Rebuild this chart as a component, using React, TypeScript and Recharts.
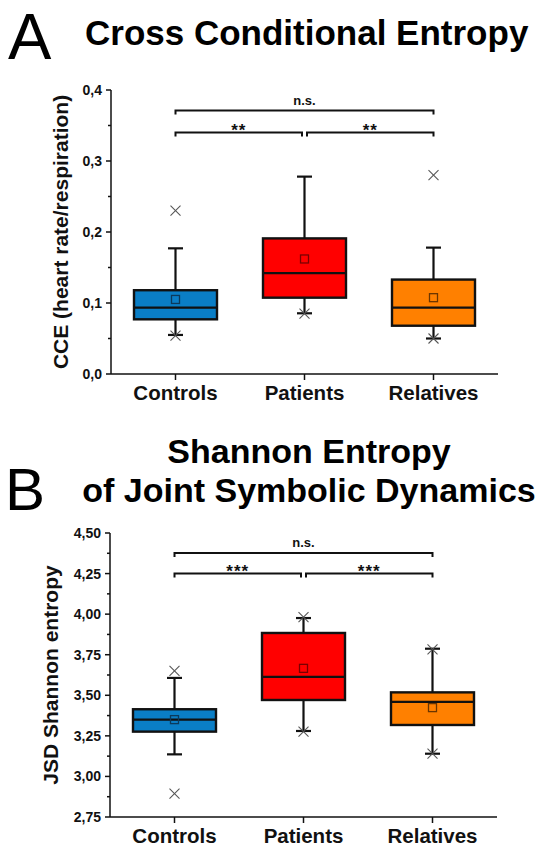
import React from 'react';
import { ComposedChart, Bar, Scatter, XAxis, YAxis, ReferenceLine } from 'recharts';

const FONT = '"Liberation Sans", Arial, Helvetica, sans-serif';

const groups = ['Controls', 'Patients', 'Relatives'];
const groupColors = ['#0a7ec6', '#ff0000', '#ff8000'];
const meanStroke = ['#0b3a5c', '#7a0000', '#6b3500'];

// Panel A: Cross Conditional Entropy
const cceWhiskerLow = [0.055, 0.0855, 0.05];
const cceQ1 = [0.077, 0.1075, 0.068];
const cceMedian = [0.0935, 0.142, 0.0935];
const cceQ3 = [0.118, 0.191, 0.133];
const cceWhiskerHigh = [0.177, 0.278, 0.178];
const cceMean = [0.105, 0.162, 0.1075];
const cceCrossHigh = [0.23, null, 0.28];
const cceCrossLow = [0.054, 0.085, 0.05];
const cceTicks = [0, 0.05, 0.1, 0.15, 0.2, 0.25, 0.3, 0.35, 0.4];
const cceMajorTicks = [0, 0.1, 0.2, 0.3, 0.4];
const cceBrackets = [
  { from: 'Controls', to: 'Relatives', y: 0.371, label: 'n.s.' },
  { from: 'Controls', to: 'Patients', y: 0.34, label: '**' },
  { from: 'Patients', to: 'Relatives', y: 0.34, label: '**' },
];

// Panel B: JSD Shannon entropy
const jsdWhiskerLow = [3.136, 3.28, 3.14];
const jsdQ1 = [3.276, 3.471, 3.317];
const jsdMedian = [3.35, 3.613, 3.459];
const jsdQ3 = [3.414, 3.884, 3.518];
const jsdWhiskerHigh = [3.607, 3.976, 3.787];
const jsdMean = [3.35, 3.666, 3.424];
const jsdCrossHigh = [3.65, 3.982, 3.783];
const jsdCrossLow = [2.894, 3.276, 3.14];
const jsdTicks = [2.75, 2.875, 3.0, 3.125, 3.25, 3.375, 3.5, 3.625, 3.75, 3.875, 4.0, 4.125, 4.25, 4.375, 4.5];
const jsdMajorTicks = [2.75, 3.0, 3.25, 3.5, 3.75, 4.0, 4.25, 4.5];
const jsdBrackets = [
  { from: 'Controls', to: 'Relatives', y: 4.377, label: 'n.s.' },
  { from: 'Controls', to: 'Patients', y: 4.25, label: '***' },
  { from: 'Patients', to: 'Relatives', y: 4.25, label: '***' },
];

type Row = {
  name: string;
  low: number;
  q1: number;
  median: number;
  q3: number;
  high: number;
  mean: number;
  crossHigh: number | null;
  crossLow: number | null;
  color: string;
  meanColor: string;
};

function buildRows(
  low: number[], q1: number[], med: number[], q3: number[], high: number[],
  mean: number[], cHigh: (number | null)[], cLow: (number | null)[]
): Row[] {
  return groups.map((g, i) => ({
    name: g,
    low: low[i],
    q1: q1[i],
    median: med[i],
    q3: q3[i],
    high: high[i],
    mean: mean[i],
    crossHigh: cHigh[i],
    crossLow: cLow[i],
    color: groupColors[i],
    meanColor: meanStroke[i],
  }));
}

const cceRows = buildRows(cceWhiskerLow, cceQ1, cceMedian, cceQ3, cceWhiskerHigh, cceMean, cceCrossHigh, cceCrossLow);
const jsdRows = buildRows(jsdWhiskerLow, jsdQ1, jsdMedian, jsdQ3, jsdWhiskerHigh, jsdMean, jsdCrossHigh, jsdCrossLow);

const BoxShape = (props: any) => {
  const { x, y, width, height, payload } = props;
  if (x == null || y == null || height == null || !payload) return null;
  const top = Math.min(y, y + height);
  const h = Math.abs(height);
  const { low, high, q1, q3, median, color } = payload;
  const py = (v: number) => top + (h * (high - v)) / (high - low);
  const cx = x + width / 2;
  const capHalf = 7.5;
  const s = '#111';
  return (
    <g>
      <line x1={cx} x2={cx} y1={py(high)} y2={py(low)} stroke={s} strokeWidth={2.2} />
      <line x1={cx - capHalf} x2={cx + capHalf} y1={py(high)} y2={py(high)} stroke={s} strokeWidth={2.2} />
      <line x1={cx - capHalf} x2={cx + capHalf} y1={py(low)} y2={py(low)} stroke={s} strokeWidth={2.2} />
      <rect x={x} y={py(q3)} width={width} height={py(q1) - py(q3)} fill={color} stroke={s} strokeWidth={2.4} />
      <line x1={x} x2={x + width} y1={py(median)} y2={py(median)} stroke={s} strokeWidth={2.2} />
    </g>
  );
};

const MeanShape = (props: any) => {
  const { cx, cy, payload } = props;
  if (cx == null || cy == null || Number.isNaN(cy)) return <g />;
  return (
    <rect x={cx - 4} y={cy - 4} width={8} height={8} fill="none"
      stroke={payload && payload.meanColor ? payload.meanColor : '#333'} strokeWidth={1.3} />
  );
};

const CrossShape = (props: any) => {
  const { cx, cy } = props;
  if (cx == null || cy == null || Number.isNaN(cy)) return <g />;
  const r = 5;
  return (
    <g stroke="#555" strokeWidth={1.1}>
      <line x1={cx - r} y1={cy - r} x2={cx + r} y2={cy + r} />
      <line x1={cx - r} y1={cy + r} x2={cx + r} y2={cy - r} />
    </g>
  );
};

const makeYTick = (majors: number[], digits: number) => (props: any) => {
  const { x, y, payload } = props;
  const v = payload.value;
  const isMajor = majors.some((m) => Math.abs(m - v) < 1e-9);
  return (
    <g>
      <line x1={x - (isMajor ? 5 : 3)} x2={x} y1={y} y2={y} stroke="#111" strokeWidth={1.5} />
      {isMajor && (
        <text x={x - 9} y={y} dy={5} textAnchor="end" fontFamily={FONT} fontWeight="bold"
          fontSize={14} fill="#111">
          {v.toFixed(digits).replace('.', ',')}
        </text>
      )}
    </g>
  );
};

const XTick = (props: any) => {
  const { x, y, payload } = props;
  return (
    <g>
      <line x1={x} x2={x} y1={y} y2={y + 6} stroke="#111" strokeWidth={1.5} />
      <text x={x} y={y + 26} textAnchor="middle" fontFamily={FONT} fontWeight="bold" fontSize={20.5} fill="#111">
        {payload.value}
      </text>
    </g>
  );
};

const makeBracket = (label: string, insetL: number, insetR: number) => (p: any) => {
  const { x1, y1, x2 } = p;
  if (x1 == null || y1 == null) return <g />;
  const l = Math.min(x1, x2) + insetL;
  const r = Math.max(x1, x2) - insetR;
  const stars = label !== 'n.s.';
  return (
    <g>
      <path d={`M${l},${y1 + 4} L${l},${y1} L${r},${y1} L${r},${y1 + 4}`} fill="none" stroke="#111" strokeWidth={2} />
      <text x={(l + r) / 2} y={stars ? y1 + 3 : y1 - 6} textAnchor="middle" fontFamily={FONT} fontWeight="bold"
        fontSize={stars ? 17 : 13} letterSpacing={stars ? 1 : 0} fill="#111">
        {label}
      </text>
    </g>
  );
};

const makeYLabel = (text: string, offsetX: number) => (props: any) => {
  const vb = props.viewBox || { x: 0, y: 0, width: 0, height: 0 };
  const cx = vb.x + offsetX;
  const cy = vb.y + vb.height / 2;
  return (
    <text x={cx} y={cy} transform={`rotate(-90, ${cx}, ${cy})`} textAnchor="middle" dominantBaseline="central"
      fontFamily={FONT} fontWeight="bold" fontSize={21} fill="#111">
      {text}
    </text>
  );
};

type PanelProps = {
  rows: Row[];
  domain: [number, number];
  ticks: number[];
  majors: number[];
  digits: number;
  brackets: { from: string; to: string; y: number; label: string }[];
  yLabel: string;
  yLabelX: number;
  margin: { top: number; right: number; left: number; bottom: number };
  yWidth: number;
  xHeight: number;
};

const Panel = ({ rows, domain, ticks, majors, digits, brackets, yLabel, yLabelX, margin, yWidth, xHeight }: PanelProps) => (
  <ComposedChart width={554} height={350} data={rows} margin={margin}>
    <XAxis dataKey="name" type="category" interval={0} tickSize={0} tickMargin={0} tickLine={false}
      axisLine={{ stroke: '#111', strokeWidth: 1.5 }} tick={<XTick />} height={xHeight} />
    <YAxis type="number" domain={domain} ticks={ticks} interval={0} tickSize={0} tickMargin={0} tickLine={false}
      axisLine={{ stroke: '#111', strokeWidth: 1.5 }} tick={makeYTick(majors, digits)} width={yWidth}
      allowDataOverflow label={{ content: makeYLabel(yLabel, yLabelX) } as any} />
    <Bar dataKey={(d: Row) => [d.low, d.high]} barSize={83} shape={BoxShape} isAnimationActive={false} />
    <Scatter dataKey="mean" shape={MeanShape} isAnimationActive={false} />
    <Scatter dataKey="crossHigh" shape={CrossShape} isAnimationActive={false} />
    <Scatter dataKey="crossLow" shape={CrossShape} isAnimationActive={false} />
    {brackets.map((b, i) => (
      <ReferenceLine key={i}
        segment={[{ x: b.from, y: b.y }, { x: b.to, y: b.y }]}
        shape={makeBracket(b.label, b.from === 'Patients' ? 2.5 : 0, b.to === 'Patients' ? 2.5 : 0)}
        ifOverflow="visible" />
    ))}
  </ComposedChart>
);

export default function App() {
  return (
    <div style={{ position: 'absolute', left: 0, top: 0, width: 554, height: 857, background: '#fff', overflow: 'hidden' }}>
      <svg width={554} height={857} style={{ position: 'absolute', left: 0, top: 0 }}>
        <text x={8} y={59} fontFamily={FONT} fontSize={65} fill="#000">A</text>
        <text x={85} y={45} fontFamily={FONT} fontWeight="bold" fontSize={35} fill="#000">Cross Conditional Entropy</text>
        <text x={5} y={510} fontFamily={FONT} fontSize={60} fill="#000">B</text>
        <text x={309} y={463} textAnchor="middle" fontFamily={FONT} fontWeight="bold" fontSize={34} fill="#000">Shannon Entropy</text>
        <text x={309} y={502} textAnchor="middle" fontFamily={FONT} fontWeight="bold" fontSize={34} fill="#000">of Joint Symbolic Dynamics</text>
      </svg>
      <div style={{ position: 'absolute', left: 0, top: 70 }}>
        <Panel rows={cceRows} domain={[0, 0.4]} ticks={cceTicks} majors={cceMajorTicks} digits={1}
          brackets={cceBrackets} yLabel="CCE (heart rate/respiration)" yLabelX={60}
          margin={{ top: 20, right: 56, left: 0, bottom: 0 }} yWidth={111} xHeight={46} />
      </div>
      <div style={{ position: 'absolute', left: 0, top: 520 }}>
        <Panel rows={jsdRows} domain={[2.75, 4.5]} ticks={jsdTicks} majors={jsdMajorTicks} digits={2}
          brackets={jsdBrackets} yLabel="JSD Shannon entropy" yLabelX={50}
          margin={{ top: 13, right: 57, left: 0, bottom: 0 }} yWidth={110} xHeight={53} />
      </div>
    </div>
  );
}
